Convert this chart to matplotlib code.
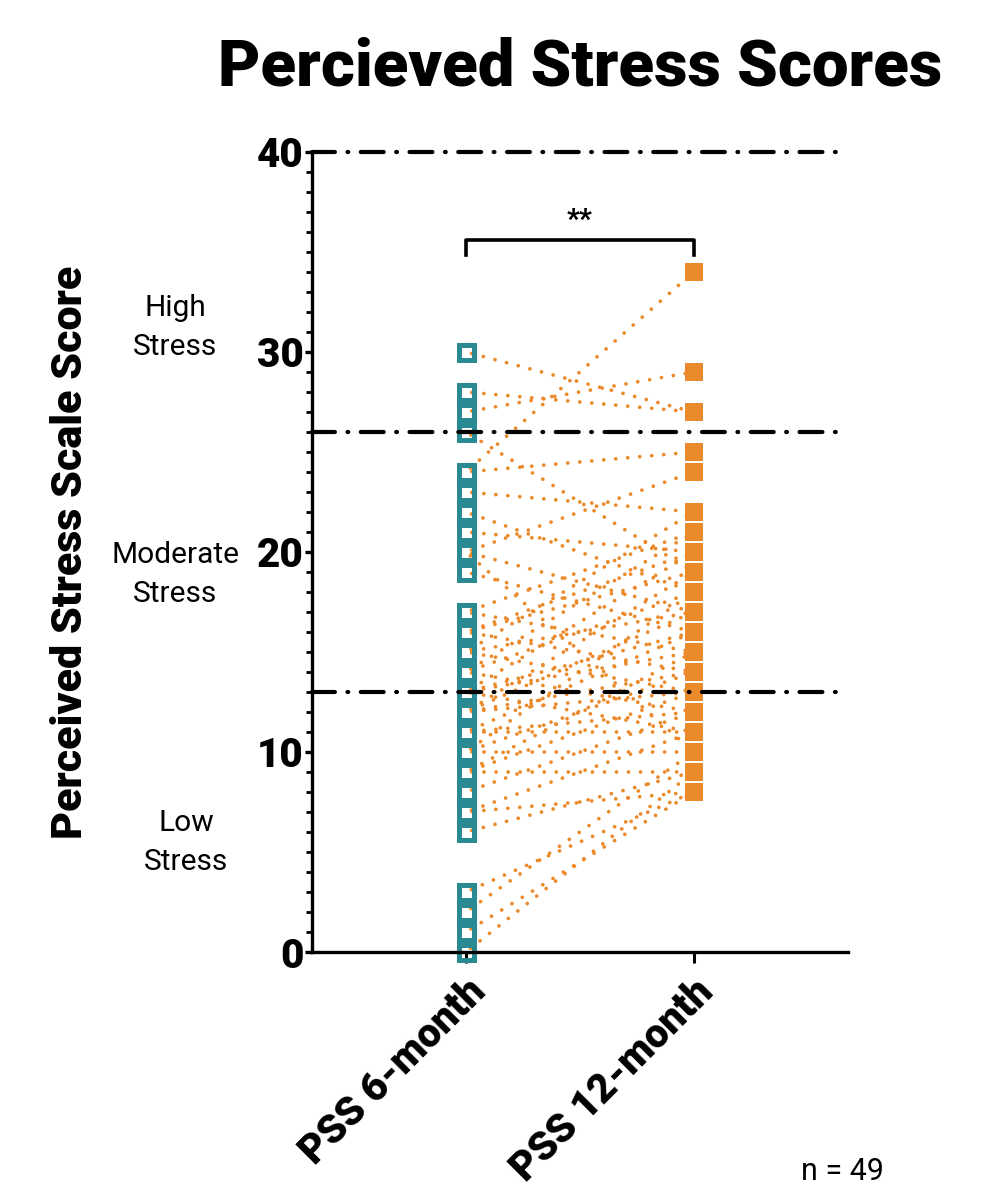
import matplotlib
matplotlib.use("Agg")
import matplotlib.pyplot as plt

# paired scores, one entry per participant (n = 49)
pss_6m = [0, 1, 2, 3, 6, 7, 7, 8, 9, 9, 9, 10, 10, 10, 11, 11, 11, 12, 12, 12, 12,
          13, 13, 13, 13, 14, 14, 14, 15, 15, 15, 16, 16, 16, 17, 17, 19, 20, 20,
          21, 22, 23, 24, 24, 26, 27, 28, 30, 20]
pss_12m = [9, 8, 10, 8, 9, 8, 11, 12, 9, 13, 15, 10, 14, 18, 11, 16, 12, 13, 17, 19, 14,
           15, 20, 11, 16, 12, 18, 21, 13, 17, 22, 14, 19, 20, 15, 21, 16, 10, 17,
           20, 18, 22, 34, 25, 19, 29, 27, 27, 24]
groups = ["PSS 6-month", "PSS 12-month"]
cutoffs = [13, 26, 40]
bands = [("High\nStress", 31.2), ("Moderate\nStress", 18.85), ("Low\nStress", 5.45)]

teal = "#2a8a93"
orange = "#eb8a2b"
fnt = "Roboto"
heavy = "heavy"

fig = plt.figure(figsize=(9.89, 11.9), dpi=100)
ax = fig.add_axes([0.3155, 0.2, 0.5415, 0.6723])

# connecting dotted lines (pattern shifted so no dot sits at the square centre)
for a, b in zip(pss_6m, pss_12m):
    ax.plot([0, 1], [a, b], color=orange, lw=2.7, linestyle=(-1.6, (0.01, 3.2)),
            dash_capstyle="round", zorder=1, clip_on=False)

ax.plot([0] * len(pss_6m), pss_6m, ls="none", marker="s", ms=10.8, mfc="none",
        mec=teal, mew=3.6, zorder=2, clip_on=False)
ax.plot([1] * len(pss_12m), pss_12m, ls="none", marker="s", ms=13.2, mfc=orange,
        mec=orange, mew=0, zorder=2, clip_on=False)

# category cut-off lines
for c in cutoffs:
    ax.axhline(c, color="black", lw=3.0, linestyle=(0, (5.5, 3.0, 0.2, 3.0)),
               dash_capstyle="round", zorder=3, clip_on=False)

ax.set_xlim(-0.675, 1.675)
ax.set_ylim(0, 40)
ax.spines["top"].set_visible(False)
ax.spines["right"].set_visible(False)
ax.spines["left"].set_linewidth(2.4)
ax.spines["bottom"].set_linewidth(2.4)

ax.set_yticks([0, 10, 20, 30, 40])
ax.set_yticks(range(0, 41), minor=True)
ax.tick_params(axis="y", which="major", length=5, width=2.4, labelsize=29, pad=1)
ax.tick_params(axis="y", which="minor", length=4, width=2.0)
ax.tick_params(axis="x", length=8, width=2.2, pad=6)
for lab in ax.get_yticklabels():
    lab.set_fontfamily(fnt)
    lab.set_fontweight(heavy)

ax.set_xticks([0, 1])
ax.set_xticklabels(groups, rotation=45, ha="right", va="top",
                   rotation_mode="anchor", fontsize=29, fontweight=heavy,
                   fontfamily=fnt)

ax.set_ylabel("Perceived Stress Scale Score", fontsize=31, fontweight=heavy,
              fontfamily=fnt, labelpad=0)
ax.yaxis.set_label_coords(-0.412, 0.5)

for txt, yv in bands:
    xpos = -0.255 if "Low" not in txt else -0.235
    ax.text(xpos, yv, txt, transform=ax.get_yaxis_transform(), ha="center",
            va="center", fontsize=21.5, fontfamily=fnt, linespacing=1.5)

# significance bracket
ax.plot([0, 0, 1, 1], [34.85, 35.6, 35.6, 34.85], color="black", lw=2.6,
        clip_on=False, zorder=4)
ax.text(0.5, 35.9, "**", ha="center", va="bottom", fontsize=20,
        fontweight=heavy, fontfamily=fnt)

fig.text(0.587, 0.943, "Percieved Stress Scores", ha="center", va="center",
         fontsize=47, fontweight=heavy, fontfamily=fnt)
fig.text(0.81, 0.003, "n = 49", ha="left", va="bottom", fontsize=22,
         fontfamily=fnt)

fig.savefig("out.png", dpi=100)
